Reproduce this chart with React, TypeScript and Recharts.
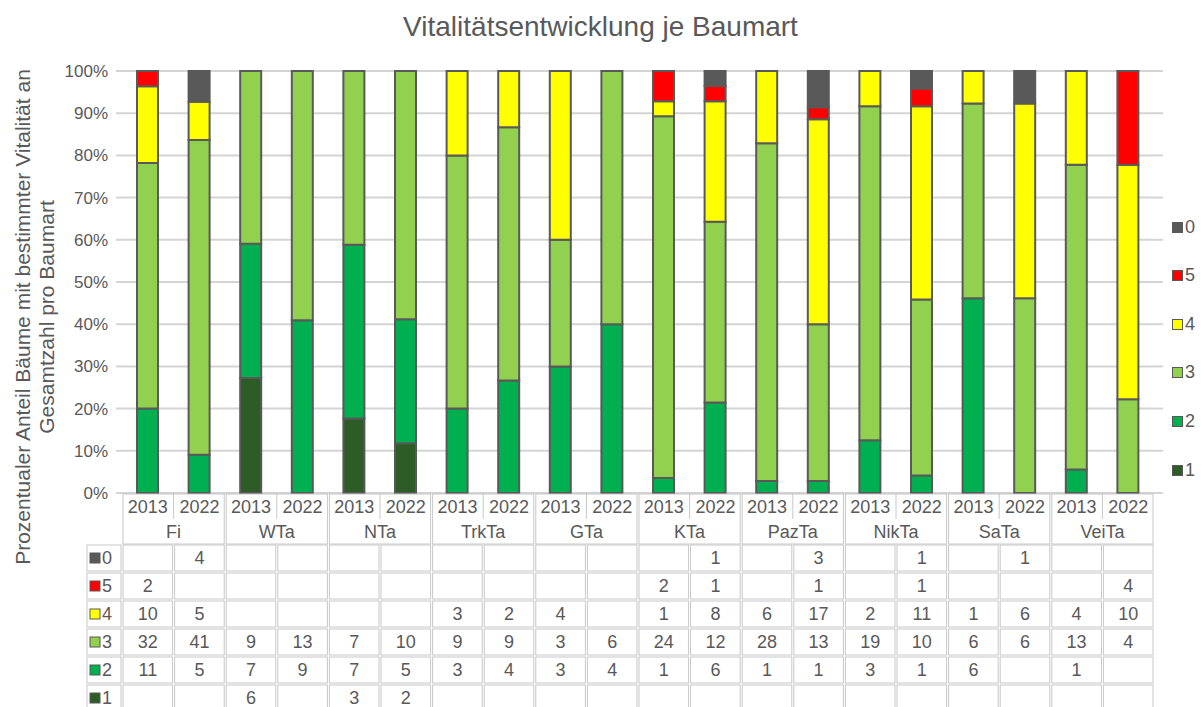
import { BarChart, Bar, XAxis, YAxis, CartesianGrid } from "recharts";

const species = ["Fi", "WTa", "NTa", "TrkTa", "GTa", "KTa", "PazTa", "NikTa", "SaTa", "VeiTa"];
const years = ["2013", "2022"];

// Anzahl Bäume je Vitalitätsstufe (pro Baumart: 2013, 2022)
const class0 = [null, 4, null, null, null, null, null, null, null, null, null, 1, null, 3, null, 1, null, 1, null, null];
const class5 = [2, null, null, null, null, null, null, null, null, null, 2, 1, null, 1, null, 1, null, null, null, 4];
const class4 = [10, 5, null, null, null, null, 3, 2, 4, null, 1, 8, 6, 17, 2, 11, 1, 6, 4, 10];
const class3 = [32, 41, 9, 13, 7, 10, 9, 9, 3, 6, 24, 12, 28, 13, 19, 10, 6, 6, 13, 4];
const class2 = [11, 5, 7, 9, 7, 5, 3, 4, 3, 4, 1, 6, 1, 1, 3, 1, 6, null, 1, null];
const class1 = [null, null, 6, null, 3, 2, null, null, null, null, null, null, null, null, null, null, null, null, null, null];

const yTicks = [0, 0.1, 0.2, 0.3, 0.4, 0.5, 0.6, 0.7, 0.8, 0.9, 1];

// stack order bottom -> top
const series = [
  { key: "v1", name: "1", color: "#2E5C27", values: class1 },
  { key: "v2", name: "2", color: "#00B050", values: class2 },
  { key: "v3", name: "3", color: "#92D050", values: class3 },
  { key: "v4", name: "4", color: "#FFFF00", values: class4 },
  { key: "v5", name: "5", color: "#FF0000", values: class5 },
  { key: "v0", name: "0", color: "#595959", values: class0 },
];
// table / legend order top -> bottom
const tableRows = [...series].reverse();

const cats = species.flatMap((s) => years.map((y) => ({ species: s, year: y })));
const data = cats.map((c, i) => {
  const row: any = { key: `${c.species}-${c.year}`, species: c.species, year: c.year };
  series.forEach((s) => {
    row[s.key] = s.values[i];
  });
  return row;
});

const W = 1201;
const H = 707;
const PLOT_LEFT = 122;
const PLOT_RIGHT = 1154;
const PLOT_TOP = 71;
const PLOT_BOTTOM = 493;
const CAT_W = (PLOT_RIGHT - PLOT_LEFT) / data.length;
const HEADER_H = 52;
const DATA_TOP = PLOT_BOTTOM + HEADER_H - 1;
const ROW_H = 28;
const LEGEND_COL_LEFT = 86;

const TEXT = "#595959";
const LINE = "#c8c8c8";
const FONT = '"Liberation Sans", Arial, sans-serif';

const TableTick = (props: any) => {
  const { x, payload } = props;
  const i = props.index ?? payload.index;
  const left = x - CAT_W / 2;
  const els: any[] = [];

  els.push(
    <text key="yr" x={x} y={PLOT_BOTTOM + 14} fill={TEXT} fontSize={18} textAnchor="middle" dominantBaseline="central">
      {data[i].year}
    </text>
  );

  if (i % 2 === 0) {
    els.push(
      <rect key="grp" x={left + 1} y={PLOT_BOTTOM + 1} width={CAT_W * 2 - 2} height={HEADER_H - 2} fill="none" stroke={LINE} />
    );
    els.push(
      <line key="sep" x1={x + CAT_W / 2} x2={x + CAT_W / 2} y1={PLOT_BOTTOM + 1} y2={PLOT_BOTTOM + 26} stroke={LINE} />
    );
    els.push(
      <text key="sp" x={x + CAT_W / 2} y={PLOT_BOTTOM + 39} fill={TEXT} fontSize={18} textAnchor="middle" dominantBaseline="central">
        {data[i].species}
      </text>
    );
  }

  tableRows.forEach((s, ri) => {
    const top = DATA_TOP + ri * ROW_H;
    const v = s.values[i];
    els.push(<rect key={`c${ri}`} x={left + 1} y={top + 1} width={CAT_W - 2} height={ROW_H - 2} fill="none" stroke={LINE} />);
    if (v != null) {
      els.push(
        <text key={`t${ri}`} x={x} y={top + ROW_H / 2} fill={TEXT} fontSize={18} textAnchor="middle" dominantBaseline="central">
          {v}
        </text>
      );
    }
    if (i === 0) {
      els.push(
        <rect key={`lc${ri}`} x={LEGEND_COL_LEFT + 1} y={top + 1} width={PLOT_LEFT - LEGEND_COL_LEFT - 2} height={ROW_H - 2} fill="none" stroke={LINE} />
      );
      els.push(
        <rect key={`ls${ri}`} x={LEGEND_COL_LEFT + 4} y={top + ROW_H / 2 - 5} width={10} height={10} fill={s.color} stroke="#595959" strokeWidth={1} />
      );
      els.push(
        <text key={`lt${ri}`} x={LEGEND_COL_LEFT + 16} y={top + ROW_H / 2} fill={TEXT} fontSize={18} dominantBaseline="central">
          {s.name}
        </text>
      );
    }
  });

  return <g>{els}</g>;
};

export default function App() {
  return (
    <div style={{ position: "absolute", left: 0, top: 0, width: W, height: H, background: "#fff", fontFamily: FONT, overflow: "hidden" }}>
      <div style={{ position: "absolute", left: 0, top: 11, width: W, textAlign: "center", fontSize: 28, color: TEXT }}>
        Vitalitätsentwicklung je Baumart
      </div>

      <svg style={{ position: "absolute", left: 0, top: 0 }} width={70} height={H}>
        <text transform="translate(22, 317) rotate(-90)" textAnchor="middle" dominantBaseline="central" fontSize={21} fill={TEXT} fontFamily={FONT}>
          Prozentualer Anteil Bäume mit bestimmter Vitalität an
        </text>
        <text transform="translate(46, 317) rotate(-90)" textAnchor="middle" dominantBaseline="central" fontSize={21} fill={TEXT} fontFamily={FONT}>
          Gesamtzahl pro Baumart
        </text>
      </svg>

      <div style={{ position: "absolute", left: 0, top: 0 }}>
        <BarChart
          width={W}
          height={H}
          data={data}
          stackOffset="expand"
          barSize={21}
          margin={{ top: PLOT_TOP, right: W - PLOT_RIGHT - 9, bottom: 0, left: 0 }}
          style={{ fontFamily: FONT }}
        >
          <CartesianGrid vertical={false} stroke="#d4d4d4" strokeWidth={2} yAxisId="l" />
          <XAxis
            dataKey="key"
            interval={0}
            axisLine={false}
            tickLine={false}
            height={H - PLOT_BOTTOM}
            tick={<TableTick />}
          />
          <YAxis
            yAxisId="l"
            type="number"
            domain={[0, 1]}
            ticks={yTicks}
            width={PLOT_LEFT}
            axisLine={false}
            tickLine={{ stroke: "#d4d4d4", strokeWidth: 2 }}
            tickSize={6}
            tickMargin={8}
            tick={{ fill: TEXT, fontSize: 17 }}
            tickFormatter={(v: number) => `${Math.round(v * 100)}%`}
          />
          <YAxis
            yAxisId="r"
            orientation="right"
            type="number"
            domain={[0, 1]}
            ticks={yTicks}
            width={9}
            axisLine={false}
            tickLine={{ stroke: "#d4d4d4", strokeWidth: 2 }}
            tickSize={9}
            tickFormatter={() => ""}
          />
          {series.map((s) => (
            <Bar
              key={s.key}
              yAxisId="l"
              dataKey={s.key}
              name={s.name}
              stackId="a"
              fill={s.color}
              stroke="#595959"
              strokeWidth={2}
              isAnimationActive={false}
            />
          ))}
        </BarChart>
      </div>

      {tableRows.map((s, i) => (
        <div
          key={s.key}
          style={{
            position: "absolute",
            left: 1172,
            top: 227 + i * 48.6 - 11,
            height: 22,
            display: "flex",
            alignItems: "center",
            fontSize: 18,
            color: TEXT,
          }}
        >
          <span style={{ display: "inline-block", width: 9, height: 9, background: s.color, border: "1px solid #595959", marginRight: 2 }} />
          {s.name}
        </div>
      ))}
    </div>
  );
}
